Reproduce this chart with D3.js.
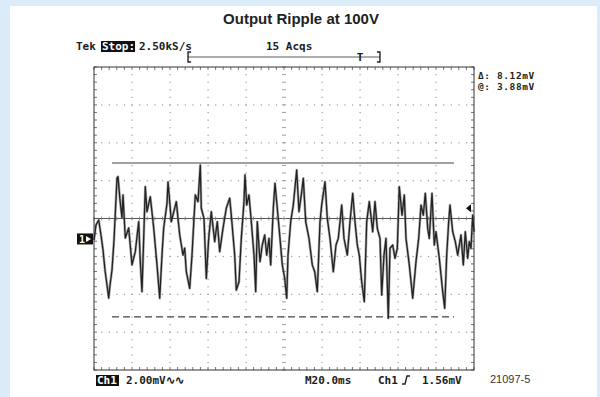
<!DOCTYPE html>
<html>
<head>
<meta charset="utf-8">
<script src="https://cdn.jsdelivr.net/npm/d3@7"></script>
<style>
  html, body { margin: 0; padding: 0; background: #d9ecf8; }
  svg { display: block; }
  .scope { font-family: "DejaVu Sans Mono", monospace; font-weight: bold; font-size: 11px; fill: #1c1c1c; }
  .small { font-size: 9.5px; letter-spacing: 0.6px; }
  .title { font-family: "Liberation Sans", Arial, sans-serif; font-weight: bold; font-size: 15px; fill: #222; }
</style>
</head>
<body>
<svg id="chart" width="600" height="397"></svg>
<script>
// ── Scope trace: time (ms) and ripple (mV) ──
const timeMs = [
  0, 1.05, 2.47, 3.68, 4.74, 5.79, 6.84, 7.74, 8.42, 9.47, 10.53, 12.11, 12.63, 13.68, 14.74, 15.26,
  16.47, 18.26, 20.0, 21.74, 23.53, 24.37, 25.26, 26.16, 27.0, 27.89, 29.63, 31.42, 33.16, 34.58,
  35.79, 36.68, 38.42, 38.95, 40.0, 40.68, 43.32, 45.11, 46.84, 47.74, 48.58, 50.37, 51.58, 52.63,
  53.32, 54.74, 55.95, 56.47, 57.89, 59.11, 60.37, 61.74, 63.53, 64.89, 66.16, 67.89, 69.63, 71.42,
  72.26, 74.05, 74.89, 76.32, 77.53, 78.95, 79.47, 80.37, 81.58, 82.79, 84.21, 85.11, 85.95, 87.37,
  88.58, 89.84, 90.89, 92.11, 93.0, 94.37, 95.26, 96.47, 97.89, 99.11, 100.37, 101.42, 102.11,
  103.53, 104.89, 106.68, 107.89, 109.11, 110.16, 111.42, 113.16, 114.89, 116.16, 117.53, 118.95,
  119.84, 121.58, 122.79, 124.21, 125.95, 127.37, 128.58, 130.37, 131.58, 133.32, 134.74, 136.16,
  137.37, 138.58, 139.63, 140.89, 142.26, 143.53, 144.89, 146.68, 147.89, 149.11, 150.53, 151.42,
  152.63, 153.68, 154.89, 155.79, 157.21, 158.42, 159.63, 160.68, 162.11, 163.32, 164.21, 165.95,
  167.74, 169.47, 170.89, 172.11, 173.32, 174.37, 175.63, 176.47, 177.89, 179.11, 180.0, 181.74,
  183.53, 184.58, 185.63, 186.68, 187.37, 188.79, 190.16, 191.42, 193.16, 194.37, 195.42, 196.68,
  197.53, 198.42, 199.32, 200.0
];
const rippleMv = [
  -1.14, -0.34, -0.08, -0.87, -1.66, -2.72, -3.51, -4.20, -3.51, -2.72, -1.14, 2.14, 2.21, 0.98, 0.03, 1.24,
  -1.03, -0.50, -2.45, -1.75, -0.17, -2.28, -3.86, -1.03, 1.68, 0.36, 1.15, -0.50, -2.45, -4.21,
  -1.93, -0.50, 0.80, 1.93, 0.71, -0.17, 0.89, -0.87, -1.93, -1.56, -2.81, -3.69, -1.93, 0.01,
  1.24, 0.89, 2.82, 0.54, 0.01, -3.16, -1.05, 0.36, -1.22, -0.17, -1.75, -0.52, 0.54, 1.07,
  0.18, -1.93, -3.78, -3.34, -1.05, 0.89, 2.30, 0.71, 1.24, -0.17, -1.93, -3.86, -0.17, -2.28,
  -1.40, -0.87, -1.93, -1.05, -2.45, 0.54, 1.86, 0.54, -1.05, -2.45, -3.16, -4.21, -1.93,
  -0.17, 0.71, 2.56, 0.36, 1.24, 2.12, -0.17, -1.05, -2.45, -2.81, -3.86, -0.17,
  0.71, 1.94, 0.01, -1.05, -2.81, -1.40, -1.05, 0.71, -1.05, -1.93, -0.17, 1.33,
  -0.17, -1.40, -1.93, -3.34, -4.39, -0.17, 0.89, -0.70, 0.89, -0.52, -1.05, -4.04,
  -1.93, -1.05, -5.27, -1.57, -1.40, -2.10, -1.57, 1.68, 0.18, 1.24, -1.05, -2.45,
  -4.21, -2.28, -1.05, 0.71, 0.18, 1.33, -0.52, -1.05, 1.33, -1.40, -0.70, -2.10,
  -3.86, -4.74, -1.93, -0.17, 0.71, -0.70, -1.22, -1.93, -0.87, -2.45, -0.70, -2.10,
  -1.22, -1.57, 0.18, -0.70
];

// ── Screen settings ──
const timeRange = [0, 200];        // 20 ms/div × 10 div
const voltRange = [-8, 8];         // 2 mV/div × 8 div
const cursorMv = [2.93, -5.19];    // Δ 8.12 mV
const cursorSpanMs = [9.5, 189.5];
const groundMv = -1.08;            // channel 1 marker
const trigLevelMv = 0.54;          // trigger level arrow
const recordSpanMs = [49.5, 150.5];
const trigPosMs = [140];

const topLabels = ["2.50kS/s", "15 Acqs"];
const cursorLabels = ["\u0394: 8.12mV", "@: 3.88mV"];
const bottomLabels = ["2.00mV\u223F\u223F", "M20.0ms", "Ch1", "1.56mV"];

const svg = d3.select("#chart");

// ── Panel ──
svg.append("rect").attr("x", 10).attr("y", 6).attr("width", 587).attr("height", 391).attr("fill", "#fff");

svg.append("text").attr("class", "title")
  .attr("x", 301).attr("y", 24).attr("text-anchor", "middle")
  .text("Output Ripple at 100V");

// ── Scales ──
const x = d3.scaleLinear().domain(timeRange).range([94, 474]);
const y = d3.scaleLinear().domain(voltRange).range([370, 67]);

const g = svg.append("g");

// dotted graticule (dots every 0.2 div on each division line)
const divX = d3.range(20, 200, 20).filter(t => t !== 100);
const divY = d3.range(-6, 8, 2).filter(v => v !== 0);
const minorX = d3.range(0, 200.01, 4);
const minorY = d3.range(-8, 8.01, 0.4);

divX.forEach(t => {
  g.selectAll(null).data(minorY.slice(1, -1)).join("rect")
    .attr("x", x(t) - 0.5).attr("y", d => y(d) - 0.5)
    .attr("width", 1.2).attr("height", 1.2).attr("fill", "#999");
});
divY.forEach(v => {
  g.selectAll(null).data(minorX.slice(1, -1)).join("rect")
    .attr("x", d => x(d) - 0.5).attr("y", y(v) - 0.5)
    .attr("width", 1.2).attr("height", 1.2).attr("fill", "#999");
});

// centre axes with ticks
g.append("line").attr("x1", x(0)).attr("x2", x(200)).attr("y1", y(0)).attr("y2", y(0))
  .attr("stroke", "#555").attr("stroke-width", 1);
g.selectAll(null).data(minorY).join("line")
  .attr("x1", x(100) - 2).attr("x2", x(100) + 2)
  .attr("y1", d => y(d)).attr("y2", d => y(d))
  .attr("stroke", "#888").attr("stroke-width", 0.8);
g.selectAll(null).data(minorX).join("line")
  .attr("x1", d => x(d)).attr("x2", d => x(d))
  .attr("y1", y(0) - 2).attr("y2", y(0) + 2)
  .attr("stroke", "#777").attr("stroke-width", 0.8);

// edge ticks
const edgeTicks = [
  { data: minorX, vert: true, at: y(8), dir: 1 },
  { data: minorX, vert: true, at: y(-8), dir: -1 },
  { data: minorY, vert: false, at: x(0), dir: 1 },
  { data: minorY, vert: false, at: x(200), dir: -1 }
];
edgeTicks.forEach(e => {
  g.selectAll(null).data(e.data).join("line")
    .attr("x1", d => e.vert ? x(d) : e.at)
    .attr("x2", d => e.vert ? x(d) : e.at + 3 * e.dir)
    .attr("y1", d => e.vert ? e.at : y(d))
    .attr("y2", d => e.vert ? e.at + 3 * e.dir : y(d))
    .attr("stroke", "#555").attr("stroke-width", 0.8);
});

g.append("rect")
  .attr("x", x(0)).attr("y", y(8))
  .attr("width", x(200) - x(0)).attr("height", y(-8) - y(8))
  .attr("fill", "none").attr("stroke", "#333").attr("stroke-width", 1);

// ── Cursors ──
g.append("line").attr("x1", x(cursorSpanMs[0])).attr("x2", x(cursorSpanMs[1]))
  .attr("y1", y(cursorMv[0])).attr("y2", y(cursorMv[0]))
  .attr("stroke", "#444").attr("stroke-width", 1.2);
g.append("line").attr("x1", x(cursorSpanMs[0])).attr("x2", x(cursorSpanMs[1]))
  .attr("y1", y(cursorMv[1])).attr("y2", y(cursorMv[1]))
  .attr("stroke", "#444").attr("stroke-width", 1.2).attr("stroke-dasharray", "7,4");

// ── Trace ──
const trace = timeMs.map((t, i) => [t, rippleMv[i]]);
const lineGen = d3.line().x(d => x(d[0])).y(d => y(d[1]));
g.append("path").datum(trace)
  .attr("fill", "none").attr("stroke", "#777").attr("stroke-width", 2.6)
  .attr("stroke-linejoin", "round").attr("opacity", 0.6)
  .attr("d", lineGen);
g.append("path").datum(trace)
  .attr("fill", "none").attr("stroke", "#222").attr("stroke-width", 1.3)
  .attr("stroke-linejoin", "round")
  .attr("d", lineGen);

// ── Markers ──
const gy = y(groundMv);
svg.append("rect").attr("x", 77).attr("y", gy - 5.5).attr("width", 16).attr("height", 11).attr("fill", "#111");
svg.append("text").attr("class", "scope").attr("x", 79).attr("y", gy + 4)
  .style("fill", "#fff").style("font-size", "10px").text("1");
svg.append("path").attr("d", `M86,${gy - 3}L91,${gy}L86,${gy + 3}Z`).attr("fill", "#fff");

const ty = y(trigLevelMv);
svg.append("path").attr("d", `M${x(200) - 8},${ty}L${x(200) - 3},${ty - 4}L${x(200) - 3},${ty + 4}Z`).attr("fill", "#111");

// record bracket and trigger position
const by = 57;
svg.append("line").attr("x1", x(recordSpanMs[0])).attr("x2", x(recordSpanMs[1]))
  .attr("y1", by).attr("y2", by).attr("stroke", "#333").attr("stroke-width", 0.8);
svg.append("path").attr("d", `M${x(recordSpanMs[0]) + 3},${by - 5}H${x(recordSpanMs[0])}V${by + 5}H${x(recordSpanMs[0]) + 3}`)
  .attr("fill", "none").attr("stroke", "#222").attr("stroke-width", 1.4);
svg.append("path").attr("d", `M${x(recordSpanMs[1]) - 3},${by - 5}H${x(recordSpanMs[1])}V${by + 5}H${x(recordSpanMs[1]) - 3}`)
  .attr("fill", "none").attr("stroke", "#222").attr("stroke-width", 1.4);
svg.append("text").attr("class", "scope").attr("x", x(trigPosMs[0])).attr("y", by + 4)
  .attr("text-anchor", "middle").text("T");

// ── Readouts ──
svg.append("text").attr("class", "scope").attr("x", 76).attr("y", 50).text("Tek");
svg.append("rect").attr("x", 101).attr("y", 41).attr("width", 34).attr("height", 11).attr("fill", "#111");
svg.append("text").attr("class", "scope").attr("x", 102).attr("y", 50).style("fill", "#fff").text("Stop:");
svg.append("text").attr("class", "scope").attr("x", 139).attr("y", 50).text(topLabels[0]);
svg.append("text").attr("class", "scope").attr("x", 266).attr("y", 50).text(topLabels[1]);

svg.append("text").attr("class", "scope small").attr("x", 478).attr("y", 79).text(cursorLabels[0]);
svg.append("text").attr("class", "scope small").attr("x", 478).attr("y", 90).text(cursorLabels[1]);

const bl = 384;
svg.append("rect").attr("x", 96).attr("y", bl - 9).attr("width", 23).attr("height", 11).attr("fill", "#111");
svg.append("text").attr("class", "scope").attr("x", 97).attr("y", bl).style("fill", "#fff").text("Ch1");
svg.append("text").attr("class", "scope").attr("x", 126).attr("y", bl).text(bottomLabels[0]);
svg.append("text").attr("class", "scope").attr("x", 305).attr("y", bl).text(bottomLabels[1]);
svg.append("text").attr("class", "scope").attr("x", 378).attr("y", bl).text(bottomLabels[2]);
svg.append("path").attr("d", `M402,${bl}L405,${bl}L407,${bl - 8}L410,${bl - 8}`)
  .attr("fill", "none").attr("stroke", "#222").attr("stroke-width", 1.4);
svg.append("text").attr("class", "scope").attr("x", 422).attr("y", bl).text(bottomLabels[3]);

svg.append("text").attr("x", 490).attr("y", bl - 1)
  .style("font-family", "Liberation Sans, Arial, sans-serif").style("font-size", "11px").style("fill", "#333")
  .text("21097-5");
</script>
</body>
</html>
